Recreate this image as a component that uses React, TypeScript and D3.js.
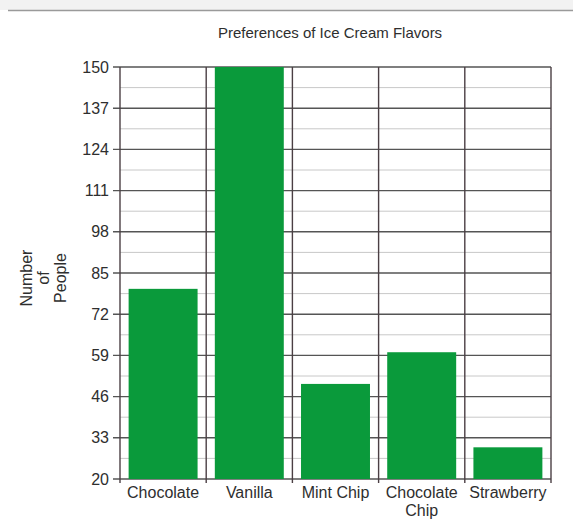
import React from 'react'
import { scaleBand, scaleLinear } from 'd3'

const flavors = ['Chocolate', 'Vanilla', 'Mint Chip', 'Chocolate Chip', 'Strawberry']
const flavorLabels = [['Chocolate'], ['Vanilla'], ['Mint Chip'], ['Chocolate', 'Chip'], ['Strawberry']]
const people = [80, 150, 50, 60, 30]
const yTicks = [20, 33, 46, 59, 72, 85, 98, 111, 124, 137, 150]
const yMinorTicks = yTicks.slice(0, -1).map((t, i) => (t + yTicks[i + 1]) / 2)

const width = 573
const height = 523
const margin = { top: 67, right: 22, bottom: 44, left: 120 }
const font = '"Liberation Sans", Arial, sans-serif'

const App = () => {
  const x = scaleBand<string>()
    .domain(flavors)
    .range([margin.left, width - margin.right])
    .paddingInner(0.2)
    .paddingOuter(0.1)
  const y = scaleLinear()
    .domain([20, 150])
    .range([height - margin.bottom, margin.top])

  const step = x.step()
  const gap = (step - x.bandwidth()) / 2
  const dividers = flavors.map(f => (x(f) as number) - gap).concat([width - margin.right])
  const x0 = margin.left
  const x1 = width - margin.right
  const yBottom = y(20)
  const yTop = y(150)

  return (
    <svg width={width} height={height} style={{ position: 'absolute', left: 0, top: 0, background: '#fff' }}>
      <rect x={0} y={0} width={width} height={10} fill="#f2f2f2" />
      <line x1={8} x2={width} y1={10.5} y2={10.5} stroke="#9a9a9a" strokeWidth={1.5} />

      <text x={330} y={38} textAnchor="middle" fontFamily={font} fontSize={15} fill="#2e2e2e">
        Preferences of Ice Cream Flavors
      </text>

      {/* minor grid */}
      {yMinorTicks.map(t => (
        <line key={'m' + t} x1={x0} x2={x1} y1={y(t)} y2={y(t)} stroke="#c8c8c8" strokeWidth={1} />
      ))}
      {/* major grid + outer ticks */}
      {yTicks.map(t => (
        <line key={'g' + t} x1={x0 - 7} x2={x1} y1={y(t)} y2={y(t)} stroke="#555" strokeWidth={1.4} />
      ))}
      {/* category dividers */}
      {dividers.map((d, i) => (
        <line key={'d' + i} x1={d} x2={d} y1={yTop} y2={yBottom + 4} stroke="#4b3f44" strokeWidth={1.4} />
      ))}

      {flavors.map((f, i) => (
        <rect
          key={f}
          x={x(f)}
          y={y(people[i])}
          width={x.bandwidth()}
          height={yBottom - y(people[i])}
          fill="#0a9a3b"
        />
      ))}

      {yTicks.map(t => (
        <text key={'t' + t} x={109} y={y(t)} dy="0.35em" textAnchor="end" fontFamily={font} fontSize={16} fill="#2e2e2e">
          {t}
        </text>
      ))}

      {flavors.map((f, i) => (
        <text key={'l' + f} x={(x(f) as number) + x.bandwidth() / 2} y={498} textAnchor="middle" fontFamily={font} fontSize={16} fill="#2e2e2e">
          {flavorLabels[i].map((line, j) => (
            <tspan key={j} x={(x(f) as number) + x.bandwidth() / 2} dy={j === 0 ? 0 : 18}>{line}</tspan>
          ))}
        </text>
      ))}

      <g transform="translate(43,278) rotate(-90)">
        {['Number', 'of', 'People'].map((line, j) => (
          <text key={line} x={0} y={(j - 1) * 17} dy="0.35em" textAnchor="middle" fontFamily={font} fontSize={16} fill="#2e2e2e">
            {line}
          </text>
        ))}
      </g>
    </svg>
  )
}

export default App
